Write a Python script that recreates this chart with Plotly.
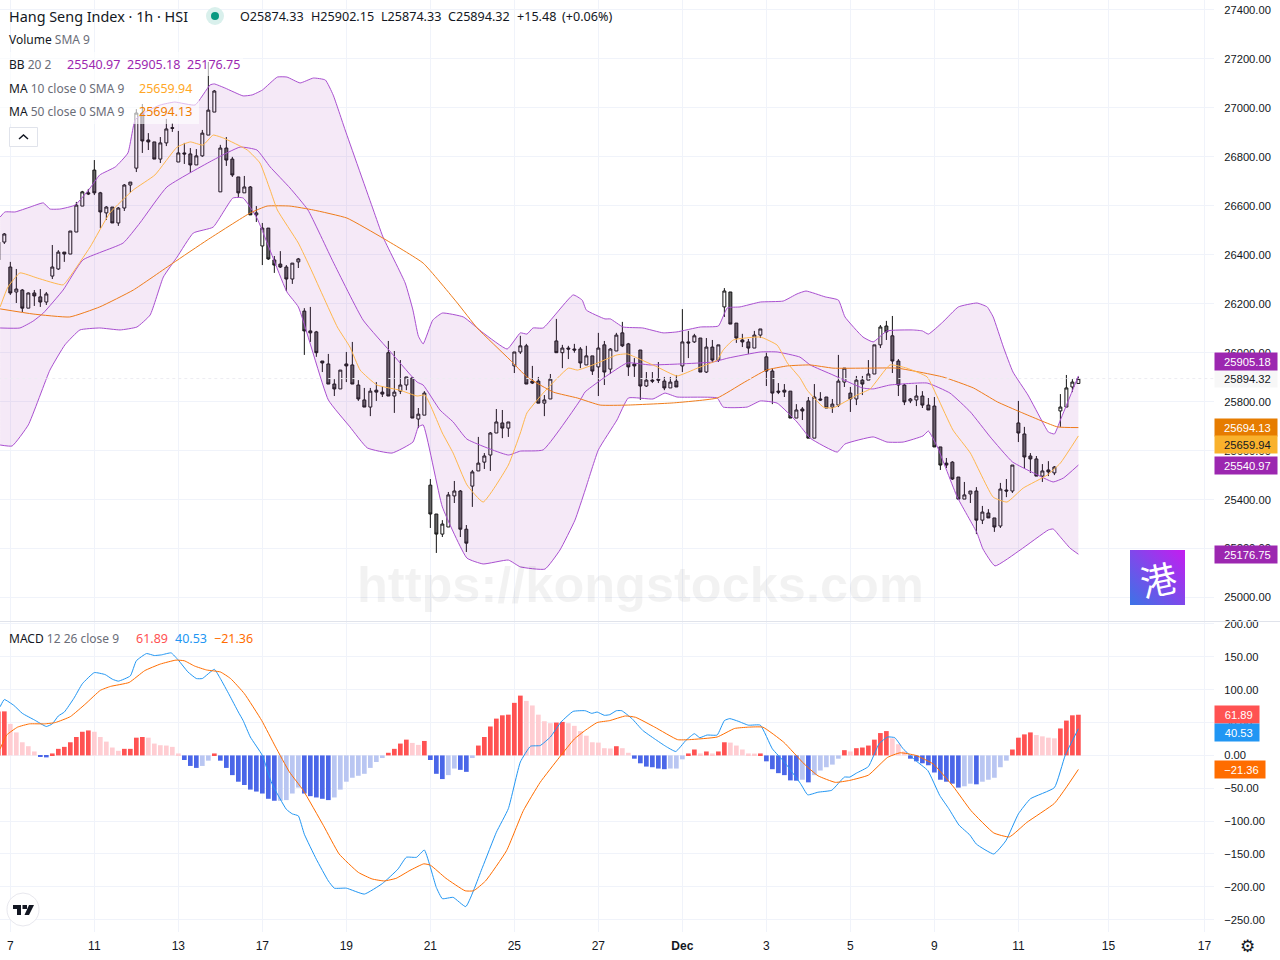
import base64
import plotly.graph_objects as go

# ---------- candles (bar -1 .. 179) ----------
opens = [26452,26452,26350,26248,26256,26182,26244,26228,26207,26313,26342,26411,26403,26493,26599,26653,26746,26653,26571,26595,26530,26591,26685,26754,26979,26869,26861,26791,26857,26919,26779,26816,26812,26767,26804,26889,26983,26657,26836,26791,26718,26653,26677,26563,26436,26509,26379,26362,26350,26301,26371,26170,26089,26085,25966,25954,25872,25852,25954,25950,25868,25807,25778,25847,25839,26000,25823,25843,25868,25897,25729,25745,25459,25341,25259,25288,25415,25435,25279,25455,25517,25553,25582,25672,25713,25692,25946,26003,26028,25884,25884,25794,25811,26048,26000,26019,26015,26015,25950,25987,25942,26032,25933,26007,26081,26036,25954,26011,25864,25888,25892,25884,25856,25884,25946,26044,26044,26060,25921,26023,25970,26187,26248,26121,26052,26044,26019,26072,25983,25925,25843,25847,25843,25733,25770,25803,25651,25811,25819,25778,25786,25880,25835,25811,25888,25888,25913,26032,26109,26069,25966,25868,25803,25807,25823,25786,25782,25615,25549,25553,25492,25402,25423,25435,25316,25345,25325,25292,25439,25435,25713,25668,25578,25566,25496,25521,25509,25762,25778,25860,25874.33]
highs = [26456,26489,26371,26342,26260,26246,26256,26260,26248,26440,26419,26411,26497,26616,26661,26669,26787,26657,26599,26595,26595,26689,26697,26995,27016,26897,26861,26881,26955,26938,26906,26857,26836,26832,26910,27188,27073,26849,26881,26800,26718,26722,26681,26599,26530,26509,26395,26415,26358,26366,26387,26182,26187,26089,25966,25995,25892,25929,26003,26044,25888,25856,25856,25880,25864,26048,26007,25970,25901,25901,25774,25843,25484,25341,25316,25431,25476,25439,25296,25521,25656,25590,25676,25770,25766,25717,26003,26069,26036,25946,25901,25827,25913,26138,26032,26028,26036,26023,26028,25987,26081,26048,26019,26081,26126,26040,25978,26011,25921,25921,25962,25901,25901,25909,26178,26089,26077,26060,26060,26052,26032,26264,26248,26121,26077,26056,26089,26097,26000,25937,25876,25872,25843,25790,25778,25819,25872,25839,25819,25811,25991,25937,25860,25905,25905,25970,26032,26113,26130,26150,25974,25872,25815,25868,25843,25815,25819,25615,25570,25557,25492,25472,25435,25451,25374,25361,25325,25468,25484,25541,25803,25697,25590,25578,25545,25557,25537,25831,25909,25892,25902.15]
lows = [26379,26444,26236,26203,26166,26182,26191,26187,26195,26301,26338,26371,26403,26493,26599,26644,26644,26509,26542,26530,26518,26579,26653,26738,26816,26828,26791,26775,26844,26902,26779,26771,26734,26767,26800,26889,26983,26657,26763,26718,26636,26653,26563,26534,26358,26379,26326,26346,26252,26281,26346,25991,26044,25983,25921,25872,25823,25852,25880,25872,25803,25778,25741,25803,25819,25823,25754,25831,25847,25733,25692,25745,25284,25182,25247,25288,25386,25247,25186,25370,25517,25525,25517,25672,25651,25656,25917,25995,25872,25872,25794,25741,25811,26000,25937,25974,26000,25937,25950,25909,25823,25868,25913,26007,26023,25905,25901,25807,25860,25876,25876,25847,25856,25860,25921,25978,26040,25921,25917,25958,25962,26146,26117,26040,26023,25995,26019,26060,25864,25790,25831,25819,25733,25733,25725,25651,25651,25803,25774,25754,25778,25860,25758,25786,25827,25888,25913,26019,26052,25917,25823,25786,25794,25782,25774,25766,25615,25521,25529,25480,25402,25402,25386,25259,25300,25325,25268,25284,25410,25427,25635,25529,25509,25496,25472,25496,25500,25697,25778,25839,25874.33]
closes = [26379,26485,26244,26260,26182,26244,26232,26207,26240,26350,26411,26403,26497,26603,26657,26649,26653,26575,26595,26530,26591,26685,26697,26979,26865,26861,26791,26857,26914,26917,26816,26812,26767,26804,26897,26991,27069,26836,26787,26726,26653,26677,26563,26571,26509,26383,26358,26350,26301,26366,26383,26089,26081,26000,25958,25872,25852,25929,25946,25872,25811,25778,25843,25839,25831,25823,25839,25868,25901,25733,25749,25835,25341,25259,25300,25419,25435,25279,25222,25513,25549,25578,25672,25717,25692,25717,26003,26028,25872,25876,25794,25807,25892,26000,26019,26015,26011,25958,25987,25925,26019,25921,26015,26072,26028,25942,25946,25864,25888,25884,25888,25856,25880,25860,26044,26040,26069,25921,26023,25970,26032,26252,26117,26060,26044,26019,26072,26097,25925,25835,25839,25839,25733,25766,25762,25651,25819,25807,25774,25790,25884,25937,25811,25888,25872,25913,26032,26105,26085,25966,25868,25799,25811,25823,25786,25766,25615,25541,25541,25484,25402,25419,25435,25316,25349,25325,25288,25443,25435,25541,25672,25574,25566,25496,25517,25513,25533,25778,25856,25880,25894.32]
bars = list(range(-1, -1 + len(opens)))

# ---------- overlay indicators: bar position, price ----------
bb_upper_x = [-0.7,0.1,1.8,4.3,6.5,7.6,9.3,11.8,14.3,15.9,18.5,20.6,21.8,23.5,26,28.4,31.8,34.3,35,36.8,39.8,41.3,43,45.5,47.1,49.3,51.5,53.5,54.8,56.8,61.5,63.1,66.8,68.1,69,69.8,71.4,73,76.5,79.8,83.8,86,87.1,88.1,89.8,94.8,96.3,97,100.1,101,103.1,106.4,109.8,112.1,116,119,120.5,122.6,126,129.8,132.1,133.6,136.8,139,140.1,143.1,144.8,147.1,151.4,153,154,156.4,159,162.1,163.8,164.8,166.5,168.1,170.6,173.1,174,175,176,179]
bb_upper_y = [26554,26575,26575,26595,26612,26587,26587,26603,26673,26726,26759,26816,26951,26983,27012,27024,27012,27094,27098,27081,27049,27053,27073,27126,27126,27102,27122,27114,27053,26910,26583,26473,26285,26174,26068,26036,26133,26162,26146,26081,26015,26081,26076,26101,26101,26236,26215,26174,26138,26138,26105,26101,26081,26085,26105,26109,26183,26187,26207,26211,26240,26252,26228,26215,26146,26064,26044,26089,26093,26089,26076,26125,26187,26203,26187,26146,26023,25921,25827,25713,25676,25668,25725,25905.18]

bb_lower_x = [-0.7,1.3,4,7.6,10.1,12.6,15.9,19.3,22.1,24.3,26.5,28.8,31.5,34.8,38.1,39.8,42.1,47.1,49,54,57.6,60.5,64.6,68.1,69,69.8,73,77.1,79.8,84,86,90.1,92.6,95.1,96.8,99,102.1,104,108.1,110.1,112.1,118.8,119.8,123.8,126,128.8,132.1,134.3,138.8,140.1,144.8,147.1,149.8,153.1,154,155.5,158.8,162.1,163.1,165.1,169.3,174,174.8,176,177.6,179]
bb_lower_y = [25623,25619,25705,25929,26032,26093,26101,26093,26105,26154,26309,26391,26489,26513,26632,26632,26550,26248,26187,25807,25697,25611,25590,25635,25697,25705,25370,25161,25137,25153,25125,25116,25194,25316,25439,25603,25725,25815,25811,25835,25819,25815,25778,25778,25803,25794,25717,25651,25594,25627,25656,25635,25635,25660,25680,25615,25411,25264,25198,25129,25194,25276,25280,25247,25202,25176.75]

bb_basis_x = [-0.7,2.6,4.8,6.5,9.8,13.1,19.8,22.6,27.1,34.8,39.3,42.1,44.3,47.6,50.6,54.8,59.8,64.8,68.8,69.8,72.6,74.8,77.1,84,86,89.8,96,96.8,103.8,107.6,112.6,118.1,120.6,126,128.8,132.6,134.3,138.1,143,144.8,147.6,153.8,157.6,161,164.3,168,171.5,174.8,176.5,179]
bb_basis_y = [26101,26101,26129,26162,26256,26379,26448,26530,26677,26787,26840,26828,26759,26673,26583,26371,26133,25991,25880,25868,25766,25717,25647,25582,25598,25603,25807,25840,25958,25950,25954,25962,25978,26003,26003,25982,25950,25909,25856,25852,25868,25876,25835,25758,25656,25554,25509,25472,25488,25540.97]

ma10_x = [-0.7,0.6,2.6,5.5,9.8,10.9,14.3,17.6,21.5,25.1,28.8,31,33.1,34.8,36.5,40.5,42.6,44.3,45.5,49,51,55.5,57.6,59.3,62.1,65.9,68.8,70.1,73,74.8,77.1,79.8,84,86,87.1,89.8,94,95.5,98.1,102.1,103.8,105.5,108.8,112.1,115.5,118.8,119.8,121.5,126,128.8,130.5,132.6,133.8,136.5,138.1,142.1,144.3,147.6,150.4,153.8,155.5,158.1,161,164.8,167.1,169.8,173.8,176,179]
ma10_y = [26187,26268,26326,26305,26277,26309,26432,26571,26665,26726,26840,26861,26848,26889,26877,26828,26775,26665,26583,26448,26346,26105,26023,25929,25868,25847,25823,25827,25672,25590,25460,25390,25541,25672,25754,25835,25937,25929,25950,25991,25995,25978,25942,25905,25937,25970,26011,26052,26064,26031,25958,25897,25847,25778,25774,25827,25852,25950,25937,25901,25819,25684,25590,25410,25390,25447,25500,25549,25659.94]

ma50_x = [-0.7,4.8,10.9,15.9,21.5,28.1,33.8,41,43.8,47.6,51.5,57.1,63.1,69.8,75.5,78.8,84.3,87.1,91.5,95.5,99.3,103.8,111.5,118.8,123.1,127,130.5,134.3,138.1,143.8,148.8,156.4,161.5,165.5,169.3,175.5,179]
ma50_y = [26179,26158,26146,26187,26256,26366,26460,26571,26599,26599,26583,26550,26468,26366,26203,26101,25970,25901,25839,25815,25786,25786,25795,25815,25876,25929,25946,25950,25937,25937,25937,25901,25856,25799,25758,25697,25694.13]

# ---------- MACD pane ----------
hist = [67,67,48,35,20,14,6,-2,-3,3,10,13,20,28,36,38,36,28,21,12,7,10,10,27,28,27,18,15.5,15,13,3,-7,-16,-19,-16,-8,3,-8,-19,-30,-40,-45,-52,-55,-58,-66,-69,-69,-68,-58,-49,-58,-62,-64,-66,-68,-64,-52,-40,-34,-31,-28,-19,-10,-4,4,10,18,24,19,16,22,-7,-28,-36,-30,-20,-22,-25,-4,15,28,44,56,61,62,80,91,83,76,62,52,49,50,51,49,45,37,30,20,19.5,11,10.5,14,11,4,-5,-12,-17,-18,-20,-21,-20,-20,-6,3,9,3,6,3,6,20,19.5,15,9,3,2.8,3,-9,-21,-27,-30,-38,-38.5,-37,-41,-30,-23,-18,-14,-5,8,6,11,12,15,24,34,37,26,17,6,-5,-9,-12,-15,-26,-37,-40,-43,-49,-47,-43,-44,-40,-37,-34,-18,-8,9,27,32,35,31,29,27,26,41,53,61,61.89]

macd_x = [-0.7,0,1.6,3,5,7,8,9,10,11.6,13,15,16.8,18,19,21,22,23.7,25,26.2,27.8,29,30.6,32,33,35,36,37.5,39,39.8,41,43,44.6,47,48,49,50,52,54,55,57,60,63,65.6,67,68.7,70,72,73,74.8,76.9,79.7,82,84,86,87.7,89.3,91,92.8,94.8,96.8,97.9,98.8,100,100.9,102,102.9,104.6,106.4,108.4,110.2,111.9,113.6,115,115.9,117.1,118.8,120,120.9,122.3,124,126,128,130,132.7,133.9,135.6,137.9,140,140.9,142,144,145.8,147.2,148.4,149.8,151.9,153.9,155.9,157.4,159.1,160.9,162,164.9,166.9,169,171,175,176.8,179]
macd_y = [74,85,76,64,54,44,48,60,66,87,109,126,123,116,113,121,144,155,152,153,156,145,127,117,117,131,117,92,66,53,28,0,-43,-82,-89,-92,-120,-158,-191,-202,-202,-211,-195,-173,-155,-155,-144,-201,-218,-216,-230,-170,-117,-81,-10,14,15,28,51,67,68,64,66,61,62,68,68,56,38,25,14,6,23,33,27,31,31,53,56,52,46,46,10,-10,-43,-60,-56,-53,-33,-33,-27,-17,18,28,27,10,-8,-23,-61,-81,-106,-121,-135,-150,-130,-89,-66,-49,0,40.53]

signal_x = [-0.7,0.4,2.2,4.2,6.7,8.5,11,13.6,16,17.7,20.8,23.4,26,28.6,30,31.7,33.7,36,37.7,40,42.9,45.2,47.5,49.8,53.2,55.8,59,61.3,63.3,65.3,67.6,69.9,71,73.6,76.8,78.2,80.2,83.7,86.5,89.3,92.5,95,96.8,98.8,100.9,103.5,105.2,108.4,112.2,114.2,118.8,121.7,124,126.4,129.9,133.3,135.6,138.5,140.9,144,147.2,149.3,151.9,154.8,158.2,161.1,164.9,167.5,170.4,175,176.8,179]
signal_y = [10,31,43,48,48,50,59,79,99,105,111,129,139,145,144,136,130,127,117,94,53,13,-25,-53,-107,-150,-178,-188,-191,-187,-175,-165,-167,-187,-206,-206,-191,-145,-84,-41,-3,25,38,50,53,60,58,43,24,24,28,41,43,43,20,-13,-31,-41,-38,-30,-3,4,0,-13,-48,-84,-118,-124,-102,-73,-51,-21.36]

# ---------- axis labels ----------
x_tick_bars = [1,15,29,43,57,71,85,99,113,127,141,155,169,184,200]
x_tick_text = ["7","11","13","17","19","21","25","27","<b>Dec</b>","3","5","9","11","15","17"]
price_ticks = [25000,25200,25400,25600,25800,26000,26200,26400,26600,26800,27000,27200,27400]
macd_ticks = [200,150,100,50,0,-50,-100,-150,-200,-250]
last_price = closes[-1]

# ---------- page geometry ----------
W, H, PW, PH = 1280, 960, 1214, 932
PURPLE, MA10C, MA50C = "#9c27b0", "#ffb74d", "#ef7c1a"
BBLINE = "#a94fd0"
INK, GREY = "#131722", "#6a6d78"
UI = "Noto Sans"
AX = "Liberation Sans"
AXS = 11.2
SMOOTH = dict(shape="spline", smoothing=0.4)


def px(x):
    return x / PW


def py(y):
    return 1 - y / PH


fig = go.Figure()
fig.add_trace(go.Scatter(x=bb_upper_x, y=bb_upper_y, mode="lines", line=dict(color=BBLINE, width=1, **SMOOTH), hoverinfo="skip"))
fig.add_trace(go.Scatter(x=bb_lower_x, y=bb_lower_y, mode="lines", line=dict(color=BBLINE, width=1, **SMOOTH), fill="tonexty", fillcolor="rgba(156,39,176,0.1)", hoverinfo="skip"))
fig.add_trace(go.Scatter(x=bb_basis_x, y=bb_basis_y, mode="lines", line=dict(color=BBLINE, width=1, **SMOOTH), hoverinfo="skip"))
fig.add_trace(go.Scatter(x=ma50_x, y=ma50_y, mode="lines", line=dict(color=MA50C, width=1, **SMOOTH), hoverinfo="skip"))
fig.add_trace(go.Scatter(x=ma10_x, y=ma10_y, mode="lines", line=dict(color=MA10C, width=1, **SMOOTH), hoverinfo="skip"))
fig.add_trace(go.Scatter(x=[-1, 202], y=[last_price, last_price], mode="lines", line=dict(color="#ececf2", width=1, dash="dot"), hoverinfo="skip"))
fig.add_trace(go.Candlestick(
    x=bars, open=opens, high=highs, low=lows, close=closes, whiskerwidth=0,
    increasing=dict(line=dict(color="#131313", width=1), fillcolor="#ffffff"),
    decreasing=dict(line=dict(color="#131313", width=1), fillcolor="#666666"),
    hoverinfo="skip",
))

hist_colors = []
for k, v in enumerate(hist):
    prev = hist[k - 1] if k else v
    if v >= 0:
        hist_colors.append("#ff5252" if v >= prev else "#ffcdd2")
    else:
        hist_colors.append("#4a66e8" if v < prev else "#b9c6f2")
fig.add_trace(go.Bar(x=bars, y=hist, marker=dict(color=hist_colors, line=dict(width=0)), width=0.78, yaxis="y2", hoverinfo="skip"))
fig.add_trace(go.Scatter(x=macd_x, y=macd_y, mode="lines", line=dict(color="#2196f3", width=1, **SMOOTH), yaxis="y2", hoverinfo="skip"))
fig.add_trace(go.Scatter(x=signal_x, y=signal_y, mode="lines", line=dict(color="#ff6d00", width=1, **SMOOTH), yaxis="y2", hoverinfo="skip"))


def note(x, y, text, size=12, color=INK, font=UI, anchor="left", **kw):
    return dict(xref="paper", yref="paper", x=px(x), y=py(y), text=text, showarrow=False, xanchor=anchor,
                yanchor="middle", borderpad=0, font=dict(family=font, size=size, color=color), **kw)


VAL = 12.5
anns = [
    note(640, 584, "<b>https://kongstocks.com</b>", size=50.5, color="rgba(0,0,0,0.05)", font=AX, anchor="center"),
    note(8, 16, "Hang Seng Index · 1h · HSI", size=14.4),
    note(239, 16, "O25874.33", size=12.6), note(310, 16, "H25902.15", size=12.6),
    note(380, 16, "L25874.33", size=12.6), note(447, 16, "C25894.32", size=12.6),
    note(516, 16, "+15.48", size=12.6), note(561, 16, "(+0.06%)", size=12.6),
    note(8, 40, f"Volume <span style='color:{GREY}'>SMA 9</span>"),
    note(8, 64, f"BB <span style='color:{GREY}'>20 2</span>"),
    note(66, 64, "25540.97", size=VAL, color=PURPLE), note(126, 64, "25905.18", size=VAL, color=PURPLE), note(186, 64, "25176.75", size=VAL, color=PURPLE),
    note(8, 88, f"MA <span style='color:{GREY}'>10 close 0 SMA 9</span>"),
    note(138, 88, "25659.94", size=VAL, color="#ffa726"),
    note(8, 112, f"MA <span style='color:{GREY}'>50 close 0 SMA 9</span>"),
    note(138, 112, "25694.13", size=VAL, color="#ef7c00"),
    note(8, 638, f"MACD <span style='color:{GREY}'>12 26 close 9</span>"),
    note(135, 638, "61.89", size=VAL, color="#ff5252"), note(174, 638, "40.53", size=VAL, color="#2196f3"), note(213, 638, "−21.36", size=VAL, color="#ff6d00"),
    note(1158, 578, "港", size=36, color="#ffffff", font="Noto Sans CJK SC", anchor="center", textangle=-12),
    note(1247, 946, "⚙", size=17, font="DejaVu Sans", anchor="center"),
]


def tag(yref, value, yshift, text, bg, fg, w):
    return dict(xref="paper", yref=yref, x=1, y=value, yshift=yshift, xanchor="left", yanchor="middle",
                width=w, height=17, text=text + "&nbsp;&nbsp;", showarrow=False, bgcolor=bg, borderpad=0, align="right",
                font=dict(family=AX, size=AXS, color=fg))


anns += [
    tag("y", 25894.32, 0, "25894.32", "#f7f7f7", INK, 62),
    tag("y", 25905.18, 14.5, "25905.18", PURPLE, "#ffffff", 62),
    tag("y", 25694.13, 0, "25694.13", "#e67c00", "#ffffff", 62),
    tag("y", 25659.94, -8.5, "25659.94", "#f9b12c", INK, 62),
    tag("y", 25540.97, 0, "25540.97", PURPLE, "#ffffff", 62),
    tag("y", 25176.75, 0, "25176.75", PURPLE, "#ffffff", 62),
    tag("y2", 61.89, 0, "61.89", "#ff5252", "#ffffff", 44),
    tag("y2", 40.53, -3.5, "40.53", "#2196f3", "#ffffff", 44),
    tag("y2", -21.36, 0, "−21.36", "#ff6d00", "#ffffff", 50),
]


def box(x0, y0, x1, y1, **kw):
    return dict(type="rect", xref="paper", yref="paper", x0=px(x0), x1=px(x1), y0=py(y0), y1=py(y1), **kw)


def path(points, **kw):
    d = "M" + " L".join(f"{px(a):.5f},{py(b):.5f}" for a, b in points)
    return dict(type="path", xref="paper", yref="paper", path=d, **kw)


clear = "rgba(255,255,255,0.62)"
shapes = [
    box(0, 52, 243, 76, fillcolor=clear, line_width=0, layer="above"),
    box(0, 76, 197, 100, fillcolor=clear, line_width=0, layer="above"),
    box(0, 100, 199, 124, fillcolor=clear, line_width=0, layer="above"),
    box(9.5, 127.5, 37.5, 146.5, fillcolor="#ffffff", line=dict(color="#e0e3eb", width=1), layer="above"),
    path([(19, 139), (23.5, 135), (28, 139)], line=dict(color=INK, width=1.5), layer="above"),
    dict(type="circle", xref="paper", yref="paper", x0=px(206), x1=px(224), y0=py(7), y1=py(25), fillcolor="#d9f0ec", line_width=0, layer="above"),
    dict(type="circle", xref="paper", yref="paper", x0=px(211), x1=px(219), y0=py(12), y1=py(20), fillcolor="#089981", line_width=0, layer="above"),
    dict(type="line", xref="paper", yref="paper", x0=0, x1=W / PW, y0=py(621.5), y1=py(621.5), line=dict(color="#e0e3eb", width=1), layer="above"),
    dict(type="circle", xref="paper", yref="paper", x0=px(7), x1=px(39), y0=py(893), y1=py(926), fillcolor="#ffffff", line=dict(color="#e8e8ee", width=1), layer="above"),
    path([(13, 905), (21, 905), (21, 915), (17, 915), (17, 909), (13, 909)], fillcolor="#131722", line_width=0, layer="above"),
    path([(22.5, 905), (27, 905), (27, 909), (22.5, 909)], fillcolor="#131722", line_width=0, layer="above"),
    path([(29, 905), (34, 905), (29, 915), (24.5, 915)], fillcolor="#131722", line_width=0, layer="above"),
]

logo_svg = (
    "<svg xmlns='http://www.w3.org/2000/svg' width='55' height='55'><defs><linearGradient id='g' x1='0' y1='1' x2='1' y2='0'>"
    "<stop offset='0' stop-color='#3b74e6'/><stop offset='1' stop-color='#c51cf0'/></linearGradient></defs>"
    "<rect width='55' height='55' fill='url(#g)'/></svg>"
)
logo = "data:image/svg+xml;base64," + base64.b64encode(logo_svg.encode()).decode()

grid = "#f0f3fa"
fig.update_layout(
    width=W, height=H, margin=dict(l=0, r=W - PW, t=0, b=H - PH, pad=0, autoexpand=False),
    paper_bgcolor="#ffffff", plot_bgcolor="#ffffff", showlegend=False, dragmode=False, barmode="overlay",
    xaxis=dict(range=[-0.72, 201.6], anchor="y2", tickmode="array", tickvals=x_tick_bars, ticktext=x_tick_text,
               showgrid=True, gridcolor=grid, gridwidth=1, zeroline=False, showline=False, ticks="outside", ticklen=3,
               tickcolor="rgba(0,0,0,0)", tickfont=dict(family=AX, size=12, color=INK), rangeslider=dict(visible=False)),
    yaxis=dict(domain=[(PH - 621) / PH, 1], range=[24904, 27440.8], anchor="x", side="right", tickmode="array",
               tickvals=price_ticks, tickformat=".2f", showgrid=True, gridcolor=grid, zeroline=False, showline=False,
               ticks="outside", ticklen=7, tickcolor="rgba(0,0,0,0)", tickfont=dict(family=AX, size=AXS, color=INK)),
    yaxis2=dict(domain=[0, (PH - 622) / PH], range=[-268.7, 203], anchor="x", side="right", tickmode="array",
                tickvals=macd_ticks, tickformat=".2f", showgrid=True, gridcolor=grid, zeroline=False, showline=False,
                ticks="outside", ticklen=7, tickcolor="rgba(0,0,0,0)", tickfont=dict(family=AX, size=AXS, color=INK)),
    annotations=anns, shapes=shapes,
    images=[dict(source=logo, xref="paper", yref="paper", x=px(1130), y=py(550), sizex=55 / PW, sizey=55 / PH,
                 xanchor="left", yanchor="top", sizing="stretch", layer="above")],
)

fig.write_html("out.html", config=dict(displayModeBar=False),
               post_script="document.body.style.margin='0';document.body.style.overflow='hidden';")
